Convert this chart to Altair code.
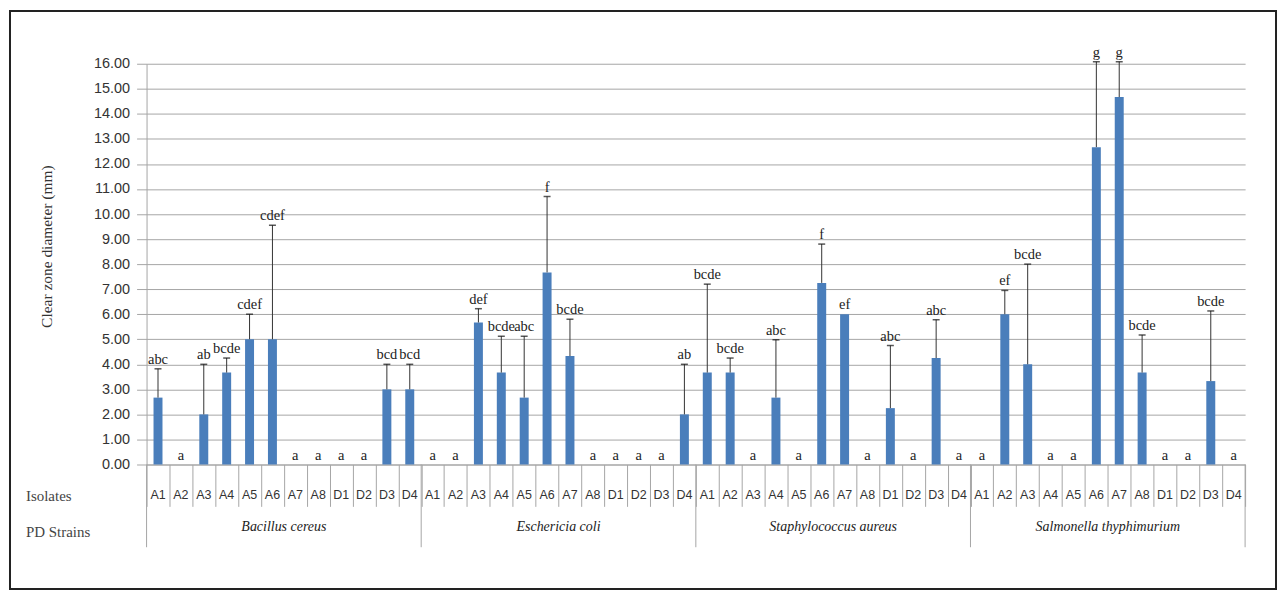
import altair as alt
import pandas as pd

strains = ["Bacillus cereus", "Eschericia coli", "Staphylococcus aureus", "Salmonella thyphimurium"]
isolates = ["A1", "A2", "A3", "A4", "A5", "A6", "A7", "A8", "D1", "D2", "D3", "D4"]

mean_bc = [2.67, 0, 2.0, 3.67, 5.0, 5.0, 0, 0, 0, 0, 3.0, 3.0]
sd_bc = [1.15, 0, 2.0, 0.58, 1.0, 4.55, 0, 0, 0, 0, 1.0, 1.0]
let_bc = ["abc", "a", "ab", "bcde", "cdef", "cdef", "a", "a", "a", "a", "bcd", "bcd"]

mean_ec = [0, 0, 5.67, 3.67, 2.67, 7.67, 4.33, 0, 0, 0, 0, 2.0]
sd_ec = [0, 0, 0.55, 1.45, 2.45, 3.03, 1.47, 0, 0, 0, 0, 2.0]
let_ec = ["a", "a", "def", "bcde", "abc", "f", "bcde", "a", "a", "a", "a", "ab"]

mean_sa = [3.67, 3.67, 0, 2.67, 0, 7.25, 6.0, 0, 2.25, 0, 4.25, 0]
sd_sa = [3.53, 0.58, 0, 2.31, 0, 1.55, 0, 0, 2.5, 0, 1.53, 0]
let_sa = ["bcde", "bcde", "a", "abc", "a", "f", "ef", "a", "abc", "a", "abc", "a"]

mean_st = [0, 6.0, 4.0, 0, 0, 12.67, 14.67, 3.67, 0, 0, 3.33, 0]
sd_st = [0, 0.95, 4.0, 0, 0, 3.41, 1.41, 1.5, 0, 0, 2.8, 0]
let_st = ["a", "ef", "bcde", "a", "a", "g", "g", "bcde", "a", "a", "bcde", "a"]

y_ticks = [0, 1, 2, 3, 4, 5, 6, 7, 8, 9, 10, 11, 12, 13, 14, 15, 16]

means = [mean_bc, mean_ec, mean_sa, mean_st]
sds = [sd_bc, sd_ec, sd_sa, sd_st]
lets = [let_bc, let_ec, let_sa, let_st]

rows = []
for s, m, sd, lt in zip(strains, means, sds, lets):
    for i, iso in enumerate(isolates):
        rows.append({"key": f"{s}|{iso}", "strain": s, "isolate": iso,
                     "mean": m[i], "top": m[i] + sd[i], "sd": sd[i], "letter": lt[i]})
df = pd.DataFrame(rows)
order = list(df["key"])

W, H = 1102, 402
xscale = alt.Scale(domain=order, paddingInner=0, paddingOuter=0)
yscale = alt.Scale(domain=[0, 16], nice=False)

xaxis = alt.Axis(title=None, labels=False, tickBand="extent", tickSize=42,
                 tickColor="#a6a6a6", domainColor="#a6a6a6", grid=False)
yaxis = alt.Axis(title="Clear zone diameter (mm)", values=y_ticks,
                 format=".2f", tickSize=10, labelPadding=7, labelOverlap=False,
                 labelFont="Liberation Sans", labelFontSize=14.5, labelColor="#333",
                 tickColor="#a6a6a6", domainColor="#a6a6a6",
                 gridColor="#a6a6a6", gridWidth=1,
                 titleFont="Liberation Serif", titleFontSize=15.5,
                 titleFontWeight="normal", titleColor="#333",
                 titleX=-92, titleY=183)


def xk(**kw):
    return alt.X("key:N", scale=xscale, sort=order, axis=xaxis, **kw)


def yq(field):
    return alt.Y(field, scale=yscale, axis=yaxis)


base = alt.Chart(df)

bars = base.mark_bar(size=9, color="#4a7ebb").encode(x=xk(), y=yq("mean:Q"))

errdf = df[df["sd"] > 0]
err = alt.Chart(errdf).mark_rule(color="#333", strokeWidth=1).encode(
    x=xk(), y=yq("mean:Q"), y2="top:Q")
caps = alt.Chart(errdf).mark_tick(color="#111", size=7, thickness=1.5).encode(
    x=xk(), y=yq("top:Q"))

letters = base.mark_text(font="Liberation Serif", fontSize=14.5, color="#222",
                         baseline="bottom", dy=-2).encode(
    x=xk(), y=yq("top:Q"), text="letter:N")

iso_labels = base.mark_text(font="Liberation Sans", fontSize=12.5, color="#333",
                            baseline="middle").encode(
    x=xk(), y=alt.value(H + 31), text="isolate:N")

gstart = df[df["isolate"] == "A1"]
seps = alt.Chart(gstart).mark_rule(color="#a6a6a6", strokeWidth=1).encode(
    x=xk(bandPosition=0), y=alt.value(H), y2=alt.value(H + 83))
gend = df[(df["strain"] == strains[-1]) & (df["isolate"] == "D4")]
sep_end = alt.Chart(gend).mark_rule(color="#a6a6a6", strokeWidth=1).encode(
    x=xk(bandPosition=1), y=alt.value(H), y2=alt.value(H + 83))

gmid = df[df["isolate"] == "A7"]
strain_labels = alt.Chart(gmid).mark_text(font="Liberation Serif", fontSize=14,
                                          fontStyle="italic", color="#222",
                                          baseline="middle").encode(
    x=xk(bandPosition=0), y=alt.value(H + 63), text="strain:N")

row_names = pd.DataFrame({"name": ["Isolates", "PD Strains"], "ypix": [H + 32, H + 68]})
row_text = alt.Chart(row_names).mark_text(font="Liberation Serif", fontSize=15,
                                          color="#444", align="left",
                                          baseline="middle").encode(
    x=alt.value(-121), y=alt.Y("ypix:Q", scale=None), text="name:N")

frame = alt.Chart(pd.DataFrame({"f": [1]})).mark_rect(
    fill=None, stroke="#222", strokeWidth=2).encode(
    x=alt.value(-137), x2=alt.value(1133), y=alt.value(-53), y2=alt.value(527))

chart = alt.layer(bars, frame, err, caps, letters, iso_labels, seps, sep_end,
                  strain_labels, row_text).properties(
    width=W, height=H,
    autosize=alt.AutoSizeParams(type="none"),
    padding={"left": 139, "top": 55, "right": 34, "bottom": 130},
).configure(background="white", view=alt.ViewConfig(stroke=None))

chart.save("out.html", embed_options={"renderer": "svg", "actions": False})
